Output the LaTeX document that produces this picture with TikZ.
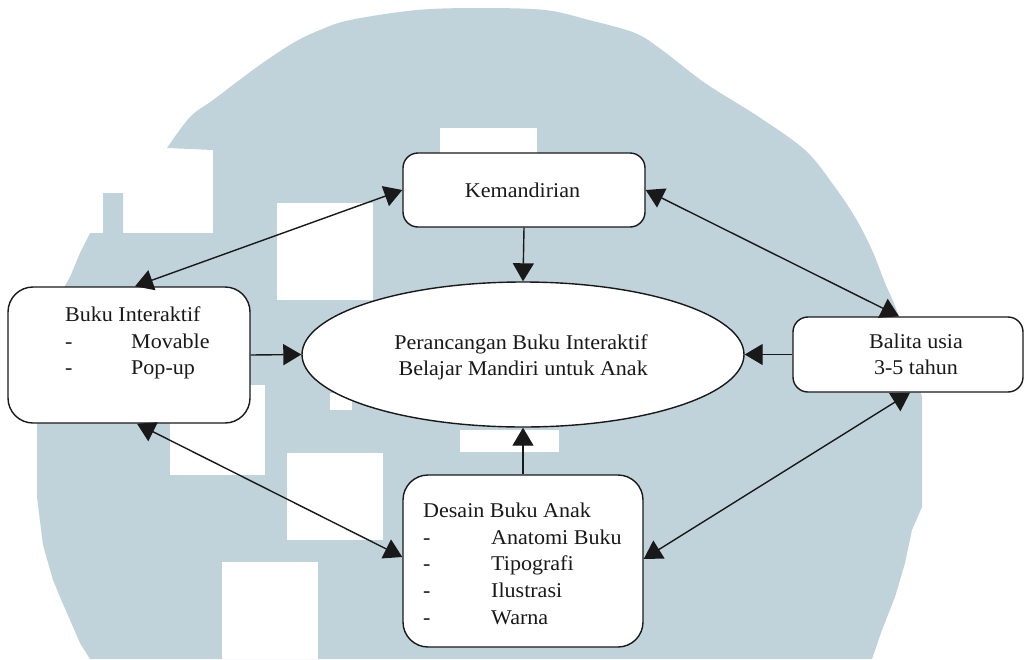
\documentclass[tikz,border=0pt]{standalone}
\usepackage{fontspec}
\setmainfont{Liberation Serif}[FakeStretch=1.05]
\usetikzlibrary{shapes.geometric,arrows.meta}
\definecolor{wm}{RGB}{193,211,218}
\definecolor{ink}{RGB}{25,25,25}
\begin{document}
\begin{tikzpicture}[x=1pt,y=-1pt,
  box/.style={draw=ink, line width=1.4pt, fill=white, rounded corners=#1, inner sep=0pt},
  txt/.style={inner sep=0pt, text=ink, font=\fontsize{21}{26.6}\selectfont},
  conn/.style={line width=1.4pt, draw=ink, arrows={-Triangle[length=18pt,width=21pt]}},
  bconn/.style={line width=1.4pt, draw=ink, arrows={Triangle[length=18pt,width=21pt]-Triangle[length=18pt,width=21pt]}},
  hole/.style={fill=white}]
\useasboundingbox (0,0) rectangle (1025,659);
% watermark
\fill[wm] plot[smooth, tension=0.55] coordinates {(167,148) (190,117) (213,100) (257,67) (293,43) (320,30) (350,20) (417,10) (480,8) (545,10) (589,20) (635,33) (662,50) (705,83) (759,117) (805,150) (832,183) (855,217) (872,250) (885,283) (899,317) (922,397)}
  -- (922,507) -- (912,530) -- (905,563) -- (895,597) -- (882,630) -- (872,659)
  -- (90,659) -- (80,643) -- (70,620) -- (60,597) -- (53,580) -- (43,545) -- (37,497) -- (37,430)
  -- (40,330) -- (70,277) -- (80,253) -- (90,233) -- (103,233) -- (103,193) -- (123,193) -- (123,233)
  -- (213,233) -- (213,150) -- cycle;
\fill[hole] (277,203) rectangle (373,300);
\fill[hole] (440,128) rectangle (537,153);
\fill[hole] (170,385) rectangle (265,475);
\fill[hole] (287,453) rectangle (383,540);
\fill[hole] (222,562) rectangle (318,659);
\fill[hole] (460,430) rectangle (559,452);
\fill[hole] (330,393) rectangle (352,410);
% shapes
\node[box=15pt, minimum width=242pt, minimum height=74pt] (kem) at (524,190) {};
\node[box=25pt, minimum width=242pt, minimum height=136pt] (buku) at (129,355) {};
\node[box=15pt, minimum width=230pt, minimum height=75pt] (balita) at (908,354.5) {};
\node[box=25pt, minimum width=240pt, minimum height=172pt] (desain) at (523,561) {};
\node[draw=ink, line width=1.4pt, fill=white, ellipse, inner sep=0pt, minimum width=442pt, minimum height=145pt] (ell) at (523,354.5) {};
% texts
\node[txt, anchor=base] (kemtxt) at (522.5,197.7) {Kemandirian};
\node[txt, anchor=base west] (bukutxt) at (65,321.7) {\begin{tabular}[t]{@{}l@{}}Buku Interaktif\\\makebox[66pt][l]{-}Movable\\\makebox[66pt][l]{-}Pop-up\end{tabular}};
\node[txt, anchor=base east] (elltxt) at (648,349.3) {\begin{tabular}[t]{@{}r@{}}Perancangan Buku Interaktif\\Belajar Mandiri untuk Anak\end{tabular}};
\node[txt, anchor=base] (balitatxt) at (916,348) {\begin{tabular}[t]{@{}c@{}}Balita usia\\3-5 tahun\end{tabular}};
\node[txt, anchor=base west] (desaintxt) at (423,517.7) {\begin{tabular}[t]{@{}l@{}}Desain Buku Anak\\\makebox[68pt][l]{-}Anatomi Buku\\\makebox[68pt][l]{-}Tipografi\\\makebox[68pt][l]{-}Ilustrasi\\\makebox[68pt][l]{-}Warna\end{tabular}};
% connectors
\draw[conn] (kem.south) -- (ell.north);
\draw[conn] (desain.north) -- (ell.south);
\draw[conn] (buku.east) -- (ell.west);
\draw[conn] (balita.west) -- (ell.east);
\draw[bconn] ([xshift=6pt]buku.north) -- (kem.west);
\draw[bconn] (kem.east) -- ([xshift=-9pt]balita.north);
\draw[bconn] ([xshift=8pt]buku.south) -- ([yshift=4pt]desain.west);
\draw[bconn] ([xshift=2pt]balita.south) -- ([yshift=2pt]desain.east);
\end{tikzpicture}
\end{document}
